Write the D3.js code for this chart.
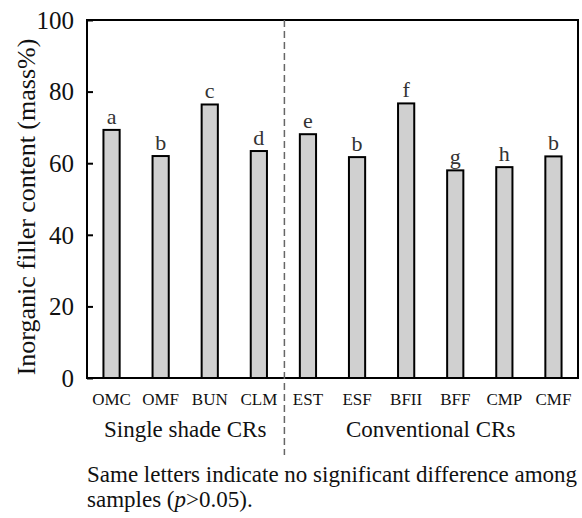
<!DOCTYPE html>
<html>
<head>
<meta charset="utf-8">
<script src="https://cdn.jsdelivr.net/npm/d3@7"></script>
<style>
  body { margin: 0; background: #fff; }
  text { font-family: "Liberation Serif", "Times New Roman", serif; }
</style>
</head>
<body>
<div id="chart"></div>
<script>
// samples, filler content (mass%) and significance letters
var samples = ["OMC", "OMF", "BUN", "CLM", "EST", "ESF", "BFII", "BFF", "CMP", "CMF"];
var filler = [69.3, 62.0, 76.4, 63.4, 68.1, 61.7, 76.7, 58.0, 58.9, 61.9];
var letters = ["a", "b", "c", "d", "e", "b", "f", "g", "h", "b"];
var groupNames = ["Single shade CRs", "Conventional CRs"];
var groupMembers = [["OMC", "OMF", "BUN", "CLM"], ["EST", "ESF", "BFII", "BFF", "CMP", "CMF"]];
var yTicks = [0, 20, 40, 60, 80, 100];

var width = 582, height = 518;
var margin = {top: 20, right: 4, bottom: 140, left: 87};

var svg = d3.select("#chart").append("svg")
    .attr("width", width)
    .attr("height", height);

svg.append("rect").attr("width", width).attr("height", height).attr("fill", "#fff");

var x = d3.scaleBand()
    .domain(samples)
    .range([margin.left, width - margin.right])
    .paddingInner(0.67)
    .paddingOuter(0.335);

var y = d3.scaleLinear()
    .domain([0, 100])
    .range([height - margin.bottom, margin.top]);

var data = samples.map(function(s, i) { return {name: s, value: filler[i], letter: letters[i]}; });

// bars
svg.selectAll(".bar")
    .data(data)
  .enter().append("rect")
    .attr("class", "bar")
    .attr("x", function(d) { return x(d.name); })
    .attr("y", function(d) { return y(d.value); })
    .attr("width", x.bandwidth())
    .attr("height", function(d) { return y(0) - y(d.value); })
    .attr("fill", "#d0d0d0")
    .attr("stroke", "#000")
    .attr("stroke-width", 2);

// significance letters
svg.selectAll(".letter")
    .data(data)
  .enter().append("text")
    .attr("class", "letter")
    .attr("x", function(d) { return x(d.name) + x.bandwidth() / 2; })
    .attr("y", function(d) { return y(d.value) - 6; })
    .attr("text-anchor", "middle")
    .style("font-size", "22px")
    .style("fill", "#333")
    .text(function(d) { return d.letter; });

// frame
svg.append("rect")
    .attr("x", margin.left)
    .attr("y", margin.top)
    .attr("width", width - margin.right - margin.left)
    .attr("height", y(0) - margin.top)
    .attr("fill", "none")
    .attr("stroke", "#000")
    .attr("stroke-width", 2);

// y axis, ticks inside
var yAxis = svg.append("g")
    .attr("transform", "translate(" + margin.left + ",0)")
    .call(d3.axisRight(y).tickValues(yTicks).tickSize(6).tickFormat(""));
yAxis.select(".domain").remove();
yAxis.selectAll("line").attr("stroke", "#000").attr("stroke-width", 2);

svg.selectAll(".ytick")
    .data(yTicks)
  .enter().append("text")
    .attr("class", "ytick")
    .attr("x", margin.left - 13)
    .attr("y", function(d) { return y(d); })
    .attr("dy", "0.35em")
    .attr("text-anchor", "end")
    .style("font-size", "25px")
    .style("fill", "#111")
    .text(function(d) { return d; });

// y title
svg.append("text")
    .attr("transform", "translate(35," + 207 + ") rotate(-90)")
    .attr("text-anchor", "middle")
    .style("font-size", "26px")
    .style("fill", "#111")
    .text("Inorganic filler content (mass%)");

// category labels
svg.selectAll(".xlabel")
    .data(samples)
  .enter().append("text")
    .attr("class", "xlabel")
    .attr("x", function(d) { return x(d) + x.bandwidth() / 2; })
    .attr("y", y(0) + 27)
    .attr("text-anchor", "middle")
    .style("font-size", "17px")
    .style("fill", "#111")
    .text(function(d) { return d; });

// group labels
svg.selectAll(".group")
    .data(groupNames)
  .enter().append("text")
    .attr("class", "group")
    .attr("x", function(d, i) {
      var m = groupMembers[i];
      return (x(m[0]) + x(m[m.length - 1]) + x.bandwidth()) / 2;
    })
    .attr("y", y(0) + 59)
    .attr("text-anchor", "middle")
    .style("font-size", "23px")
    .style("fill", "#111")
    .text(function(d) { return d; });

// dashed separator between groups
var sepX = (x("CLM") + x.bandwidth() + x("EST")) / 2 + 1;
svg.append("line")
    .attr("x1", sepX).attr("x2", sepX)
    .attr("y1", margin.top).attr("y2", 455)
    .attr("stroke", "#666")
    .attr("stroke-width", 1.5)
    .attr("stroke-dasharray", "7,4");

// footnote
var note = svg.append("text")
    .attr("x", margin.left)
    .attr("y", 482)
    .style("font-size", "23px")
    .style("fill", "#111");
note.append("tspan").text("Same letters indicate no significant difference among");
var line2 = svg.append("text")
    .attr("x", margin.left)
    .attr("y", 507)
    .style("font-size", "23px")
    .style("fill", "#111");
line2.append("tspan").text("samples (");
line2.append("tspan").style("font-style", "italic").text("p");
line2.append("tspan").text(">0.05).");
</script>
</body>
</html>
